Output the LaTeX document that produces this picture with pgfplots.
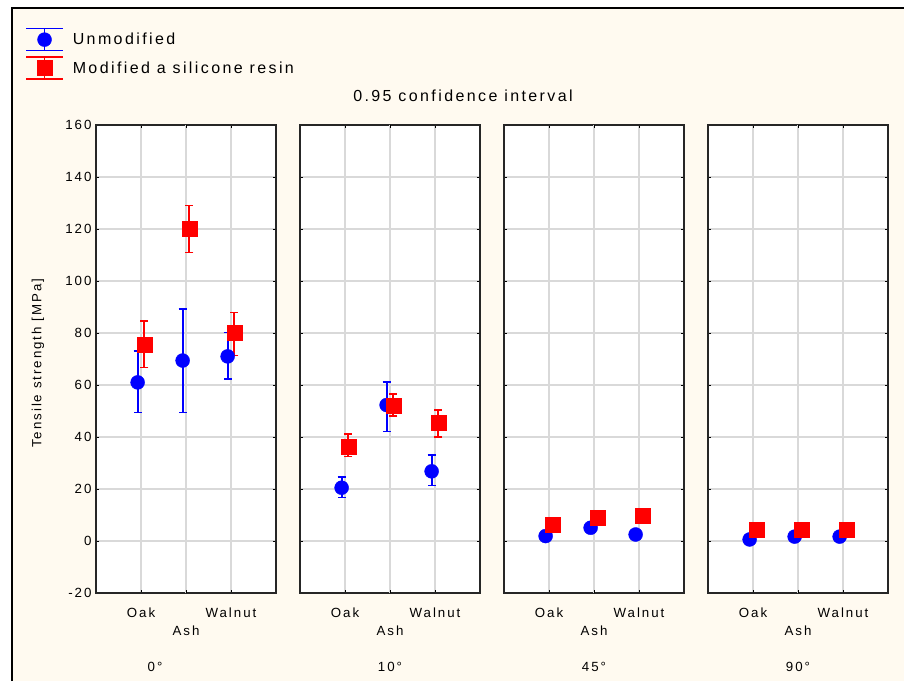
\documentclass[border=0pt]{standalone}
\usepackage{fontspec}
\setmainfont{Liberation Sans}
\newfontfamily\spacedfont[LetterSpace=15]{Liberation Sans}
\usepackage{pgfplots}
\pgfplotsset{compat=1.18}
\usepackage{pgfplotstable}
\definecolor{cream}{RGB}{255,250,240}
\definecolor{gridgray}{RGB}{217,217,217}
\newcommand{\tickfont}{\spacedfont\fontsize{13.3}{15}\selectfont}
\newcommand{\bigfont}{\spacedfont\fontsize{16}{18}\selectfont}

% columns: x  y  err+  err-
\pgfplotstableread{
x y ep em
0.925 61.0 12.1 11.6
1.925 69.4 19.8 20.0
2.925 71.0 9.2 8.6
}\pzeroblue
\pgfplotstableread{
x y ep em
1.075 75.6 9.1 8.8
2.075 120.0 9.0 9.1
3.075 80.0 7.8 8.7
}\pzerored
\pgfplotstableread{
x y ep em
0.925 20.5 4.1 3.8
1.925 52.3 8.9 10.2
2.925 26.8 6.3 5.5
}\ptenblue
\pgfplotstableread{
x y ep em
1.075 36.4 4.7 3.9
2.075 52.2 4.3 4.2
3.075 45.4 5.0 5.4
}\ptenred
\pgfplotstableread{
x y ep em
0.925 1.9 1.0 1.0
1.925 5.1 1.0 1.0
2.925 2.5 1.0 1.0
}\pfortyblue
\pgfplotstableread{
x y ep em
1.075 6.4 1.0 1.0
2.075 8.9 1.0 1.0
3.075 9.8 1.0 1.0
}\pfortyred
\pgfplotstableread{
x y ep em
0.925 0.6 0.8 0.8
1.925 1.7 0.8 0.8
2.925 1.7 0.8 0.8
}\pninetyblue
\pgfplotstableread{
x y ep em
1.075 4.5 0.8 0.8
2.075 4.5 0.8 0.8
3.075 4.5 0.8 0.8
}\pninetyred

\pgfplotsset{
  panel/.style={
    scale only axis, width=180pt, height=468pt,
    anchor=south west,
    xmin=0, xmax=4, ymin=-20, ymax=160,
    xtick={1,3}, xticklabels={Oak,Walnut},
    extra x ticks={2}, extra x tick labels={Ash},
    extra x tick style={tick label style={yshift=-18pt}},
    ytick={-20,0,...,160},
    grid=major,
    major grid style={draw=gridgray, line width=1.5pt},
    axis line style={line width=1.6pt, black!85},
    tick style={black, line width=1pt},
    major tick length=3pt, tick align=inside,
    axis background/.style={fill=white},
    tick label style={font=\tickfont},
    xticklabel style={yshift=-11pt},
    /pgf/number format/assume math mode=true,
    clip=false,
  },
  blueser/.style={
    only marks, mark=*, mark size=7pt,
    mark options={draw=blue, fill=blue},
    color=blue,
    /pgfplots/error bars/y dir=both,
    /pgfplots/error bars/y explicit,
    /pgfplots/error bars/error mark=|,
    /pgfplots/error bars/error bar style={line width=1.8pt, draw=blue},
    /pgfplots/error bars/error mark options={line width=1.5pt, mark size=4pt, draw=blue},
  },
  redser/.style={
    only marks, mark=square*, mark size=7.5pt,
    mark options={draw=red, fill=red},
    color=red,
    /pgfplots/error bars/y dir=both,
    /pgfplots/error bars/y explicit,
    /pgfplots/error bars/error mark=|,
    /pgfplots/error bars/error bar style={line width=1.8pt, draw=red},
    /pgfplots/error bars/error mark options={line width=1.5pt, mark size=4pt, draw=red},
  },
}

\begin{document}
\begin{tikzpicture}
\fill[white] (0pt,0pt) rectangle (904pt,-681pt);
\fill[cream] (12pt,-8pt) rectangle (904pt,-681pt);
\draw[black, line width=2pt] (12pt,-681pt) -- (12pt,-8pt) -- (904pt,-8pt);

\begin{axis}[panel, at={(96pt,-593pt)},
  ylabel={Tensile strength [MPa]},
  ylabel style={font=\tickfont, at={(axis description cs:-0.322,0.491)}, anchor=center},
  yticklabel style={xshift=-1pt},
  legend style={at={(axis description cs:-0.394,1.208)}, anchor=north west,
    draw=none, fill=none, font=\bigfont, inner sep=0pt,
    row sep=5pt, legend cell align=left,
    /tikz/every odd column/.append style={column sep=7pt}},
]
\addplot[legend image code/.code={
   \draw[blue, line width=1.5pt] (0pt,11pt)--(37pt,11pt) (0pt,-11pt)--(37pt,-11pt) (18.5pt,-11pt)--(18.5pt,11pt);
   \fill[blue] (18.5pt,0pt) circle (7pt);}, blueser]
  table[x=x, y=y, y error plus=ep, y error minus=em] {\pzeroblue};
\addlegendentry{Unmodified}
\addplot[legend image code/.code={
   \draw[red, line width=1.5pt] (0pt,11pt)--(37pt,11pt) (0pt,-11pt)--(37pt,-11pt) (18.5pt,-11pt)--(18.5pt,11pt);
   \fill[red] (11pt,-7.5pt) rectangle (26pt,7.5pt);}, redser]
  table[x=x, y=y, y error plus=ep, y error minus=em] {\pzerored};
\addlegendentry{Modified a silicone resin}
\end{axis}

\begin{axis}[panel, at={(300pt,-593pt)}, yticklabels={}]
\addplot[blueser] table[x=x, y=y, y error plus=ep, y error minus=em] {\ptenblue};
\addplot[redser] table[x=x, y=y, y error plus=ep, y error minus=em] {\ptenred};
\end{axis}

\begin{axis}[panel, at={(504pt,-593pt)}, yticklabels={}]
\addplot[blueser] table[x=x, y=y, y error plus=ep, y error minus=em] {\pfortyblue};
\addplot[redser] table[x=x, y=y, y error plus=ep, y error minus=em] {\pfortyred};
\end{axis}

\begin{axis}[panel, at={(708pt,-593pt)}, yticklabels={}]
\addplot[blueser] table[x=x, y=y, y error plus=ep, y error minus=em] {\pninetyblue};
\addplot[redser] table[x=x, y=y, y error plus=ep, y error minus=em] {\pninetyred};
\end{axis}

\node[font=\bigfont] at (463pt,-96pt) {0.95 confidence interval};
\node[font=\tickfont] at (155pt,-667pt) {0°};
\node[font=\tickfont] at (390pt,-667pt) {10°};
\node[font=\tickfont] at (594pt,-667pt) {45°};
\node[font=\tickfont] at (798pt,-667pt) {90°};

\pgfresetboundingbox
\useasboundingbox (0pt,0pt) rectangle (904pt,-681pt);
\end{tikzpicture}
\end{document}
